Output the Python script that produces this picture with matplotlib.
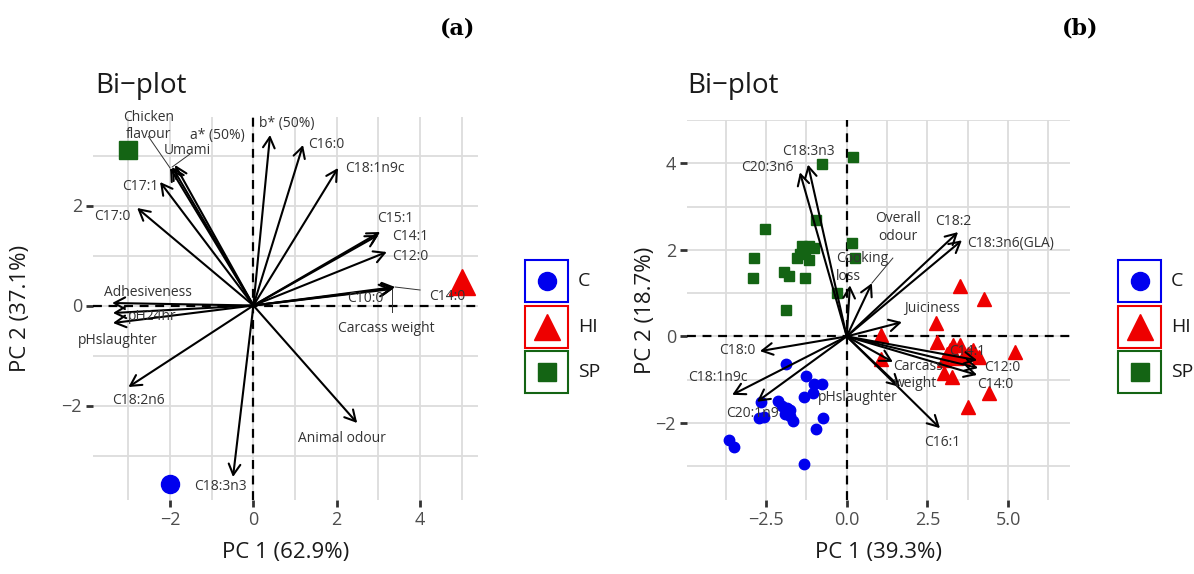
import matplotlib
matplotlib.use("Agg")
import matplotlib.pyplot as plt
from matplotlib.patches import Rectangle

plt.rcParams['font.family'] = ['Open Sans', 'DejaVu Sans']
plt.rcParams['axes.unicode_minus'] = True

W, H, DPI = 1194, 574, 100

# ---------------- data ----------------
groups = ["C", "HI", "SP"]
group_colors = ["#0000EE", "#EE0000", "#146414"]
group_markers = ["o", "^", "s"]

# Panel (a): group centroids
a_pc1 = [-2.0, 5.0, -3.0]
a_pc2 = [-3.57, 0.47, 3.12]

# Panel (a): variable loadings
a_vars = ["b* (50%)", "C16:0", "C18:1n9c", "C15:1", "C14:1", "C12:0", "C14:0",
          "C10:0", "Carcass weight", "Animal odour", "C18:3n3", "C18:2n6",
          "pHslaughter", "pH24hr", "Adhesiveness", "C17:0", "C17:1", "Umami",
          "a* (50%)", "Chicken\nflavour"]
a_load1 = [0.40, 1.19, 2.03, 3.04, 3.00, 3.20, 3.40, 3.38, 3.33, 2.49, -0.49, -3.00,
           -3.37, -3.37, -3.39, -2.79, -2.24, -1.95, -1.88, -2.00]
a_load2 = [3.41, 3.21, 2.75, 1.47, 1.41, 1.07, 0.37, 0.35, 0.33, -2.35, -3.43, -1.63,
           -0.35, -0.15, 0.05, 1.95, 2.47, 2.77, 2.81, 2.75]

# Panel (b): individual scores
b_C_pc1 = [-1.89, -1.27, -1.02, -0.77, -1.33, -1.05, -2.66, -2.14, -2.00, -1.85, -1.75,
           -1.90, -1.75, -1.68, -2.72, -2.57, -0.74, -0.96, -3.65, -3.50, -1.33]
b_C_pc2 = [-0.64, -0.92, -1.10, -1.10, -1.40, -1.31, -1.52, -1.50, -1.60, -1.65, -1.70,
           -1.80, -1.85, -1.95, -1.89, -1.86, -1.89, -2.14, -2.39, -2.55, -2.94]
b_HI_pc1 = [3.50, 4.24, 2.76, 1.05, 2.80, 3.30, 3.50, 3.20, 3.90, 3.10, 3.75, 4.10,
            5.20, 3.60, 1.05, 3.00, 3.27, 4.40, 3.75, 3.40, 3.00]
b_HI_pc2 = [1.17, 0.87, 0.30, 0.03, -0.14, -0.20, -0.20, -0.32, -0.32, -0.40, -0.40,
            -0.48, -0.37, -0.48, -0.53, -0.85, -0.94, -1.31, -1.63, -0.50, -0.55]
b_SP_pc1 = [0.19, -0.77, -0.96, -2.54, -2.88, -2.91, -1.95, -1.80, -1.30, -1.89, -1.40,
            -1.18, -1.00, -1.55, -1.18, -1.30, 0.15, 0.25, -0.31, -1.45]
b_SP_pc2 = [4.14, 3.98, 2.69, 2.48, 1.82, 1.36, 1.49, 1.40, 1.36, 0.60, 2.10, 2.10,
            2.05, 1.82, 1.77, 1.95, 2.16, 1.82, 1.01, 1.90]

# Panel (b): variable loadings
b_vars = ["C20:3n6", "C18:3n3", "C18:2", "C18:3n6(GLA)", "Overall\nodour",
          "Cooking\nloss", "Juiciness", "C18:0", "C18:1n9c", "C20:1n9", "pHslaughter",
          "Carcass\nweight", "C16:1", "C14:1", "C12:0", "C14:0"]
b_load1 = [-1.45, -1.20, 3.45, 3.57, 0.78, 0.10, 1.71, -2.69, -3.55, -2.78, 1.65, 1.43,
           2.89, 4.04, 4.07, 4.04]
b_load2 = [3.79, 3.97, 2.41, 2.22, 1.23, 1.18, 0.33, -0.34, -1.35, -1.51, -1.17, -0.59,
           -2.12, -0.55, -0.73, -0.89]

# ---------------- label layout (repelled positions) ----------------
a_label_pos = {
    "b* (50%)": (0.81, 3.65, "center"), "C16:0": (1.31, 3.21, "left"),
    "C18:1n9c": (2.2, 2.75, "left"), "C15:1": (3.40, 1.75, "center"),
    "C14:1": (3.76, 1.37, "center"), "C12:0": (3.76, 0.99, "center"),
    "C14:0": (4.65, 0.17, "center"), "C10:0": (2.68, 0.15, "center"),
    "Carcass weight": (3.2, -0.45, "center"), "Animal odour": (2.13, -2.67, "center"),
    "C18:3n3": (-0.8, -3.63, "center"), "C18:2n6": (-2.77, -1.89, "center"),
    "pHslaughter": (-3.25, -0.69, "center"), "pH24hr": (-2.43, -0.23, "center"),
    "Adhesiveness": (-2.53, 0.25, "center"), "C17:0": (-3.39, 1.77, "center"),
    "C17:1": (-2.72, 2.37, "center"), "Umami": (-1.59, 3.11, "center"),
    "a* (50%)": (-0.87, 3.41, "center"), "Chicken\nflavour": (-2.52, 3.59, "center"),
}
a_leaders = {"C14:0": (4.0, 0.31), "Carcass weight": (3.33, -0.13),
             "Umami": (-1.52, 3.03), "Chicken\nflavour": (-2.52, 3.38)}

b_label_pos = {
    "C20:3n6": (-2.47, 3.91, "center"), "C18:3n3": (-1.2, 4.27, "center"),
    "C18:2": (3.29, 2.66, "center"), "C18:3n6(GLA)": (3.73, 2.15, "left"),
    "Overall\nodour": (1.59, 2.52, "center"), "Cooking\nloss": (-0.33, 1.6, "left"),
    "Juiciness": (2.64, 0.65, "center"), "C18:0": (-3.4, -0.32, "center"),
    "C18:1n9c": (-3.98, -0.96, "center"), "C20:1n9": (-2.91, -1.77, "center"),
    "pHslaughter": (0.35, -1.42, "center"), "Carcass\nweight": (1.45, -0.89, "left"),
    "C16:1": (2.95, -2.46, "center"), "C14:1": (3.73, -0.36, "center"),
    "C12:0": (4.81, -0.71, "center"), "C14:0": (4.6, -1.1, "center"),
}
b_leaders = {"Overall\nodour": (1.43, 1.81)}

fig = plt.figure(figsize=(W / DPI, H / DPI), dpi=DPI)
fig.patch.set_facecolor("white")


def px_rect(l, t, r, b):
    return [l / W, 1 - b / H, (r - l) / W, (b - t) / H]


def fmt(v, d):
    s = f"{v:.{d}f}"
    return s.replace("-", "\u2212")


def style_axes(ax, xlim, ylim, xmaj, xmin, ymaj, ymin, dec):
    ax.set_xlim(*xlim)
    ax.set_ylim(*ylim)
    for s in ax.spines.values():
        s.set_visible(False)
    ax.set_xticks(xmaj, labels=[fmt(v, dec) for v in xmaj])
    ax.set_xticks(xmin, minor=True)
    ax.set_yticks(ymaj, labels=[fmt(v, 0) for v in ymaj])
    ax.set_yticks(ymin, minor=True)
    ax.grid(which="both", color="#DCDCDC", lw=1.3)
    ax.set_axisbelow(True)
    ax.tick_params(which="major", length=5, width=2, color="#333333",
                   labelsize=13, labelcolor="#4D4D4D", pad=3)
    ax.tick_params(which="minor", length=0)
    ax.axhline(0, color="black", lw=1.6, ls=(0, (4, 3)), zorder=2)
    ax.axvline(0, color="black", lw=1.6, ls=(0, (4, 3)), zorder=2)


def draw_arrows(ax, names, l1, l2, pos, leaders):
    for n, x, y in zip(names, l1, l2):
        ax.annotate("", xy=(x, y), xytext=(0, 0),
                    arrowprops=dict(arrowstyle="->,head_length=0.55,head_width=0.3",
                                    lw=1.5, color="black", shrinkA=0, shrinkB=0,
                                    mutation_scale=14), zorder=4)
        tx, ty, ha = pos[n]
        ax.text(tx, ty, n, ha=ha, va="center", fontsize=10, color="#333333",
                linespacing=1.25, zorder=5)
        if n in leaders:
            lx, ly = leaders[n]
            ax.plot([lx, x], [ly, y], color="#333333", lw=0.7, zorder=5)


# ---------------- panel (a) ----------------
ax_a = fig.add_axes(px_rect(93, 117, 478, 500))
style_axes(ax_a, (-3.85, 5.39), (-3.89, 3.77), [-2, 0, 2, 4], [-3, -1, 1, 3, 5],
           [-2, 0, 2], [-3, -1, 1, 3], 0)
draw_arrows(ax_a, a_vars, a_load1, a_load2, a_label_pos, a_leaders)
a_sizes = [13, 19, 13.5]
for g, c, m, x, y, s in zip(groups, group_colors, group_markers, a_pc1, a_pc2, a_sizes):
    ax_a.plot([x], [y], marker=m, color=c, ms=s, ls="none", zorder=3, clip_on=False)
ax_a.set_xlabel("PC 1 (62.9%)", fontsize=16, color="#1A1A1A", labelpad=9)
ax_a.set_ylabel("PC 2 (37.1%)", fontsize=16, color="#1A1A1A")
ax_a.yaxis.set_label_coords((31 - 93) / 385, 0.5)

# ---------------- panel (b) ----------------
ax_b = fig.add_axes(px_rect(687, 120, 1070, 500))
style_axes(ax_b, (-4.95, 6.92), (-3.78, 4.99), [-2.5, 0, 2.5, 5.0],
           [-3.75, -1.25, 1.25, 3.75, 6.25], [-2, 0, 2, 4], [-3, -1, 1, 3, 5], 1)
b_xs = [b_C_pc1, b_HI_pc1, b_SP_pc1]
b_ys = [b_C_pc2, b_HI_pc2, b_SP_pc2]
b_sizes = [7.5, 9.5, 6.5]
for c, m, xs, ys, s in zip(group_colors, group_markers, b_xs, b_ys, b_sizes):
    ax_b.plot(xs, ys, marker=m, color=c, ms=s, ls="none", zorder=3)
draw_arrows(ax_b, b_vars, b_load1, b_load2, b_label_pos, b_leaders)
ax_b.set_xlabel("PC 1 (39.3%)", fontsize=16, color="#1A1A1A", labelpad=9)
ax_b.set_ylabel("PC 2 (18.7%)", fontsize=16, color="#1A1A1A")
ax_b.yaxis.set_label_coords((656 - 687) / 383, 0.5)

# ---------------- overlay: titles, panel letters, legends ----------------
ov = fig.add_axes([0, 0, 1, 1])
ov.set_xlim(0, W)
ov.set_ylim(H, 0)
ov.axis("off")
ov.text(95, 86, "Bi\u2212plot", fontsize=20, color="#1A1A1A", ha="left", va="center")
ov.text(687, 86, "Bi\u2212plot", fontsize=20, color="#1A1A1A", ha="left", va="center")
ov.text(458, 28, "(a)", fontsize=16, fontweight="bold", family="DejaVu Serif",
        ha="center", va="center")
ov.text(1080, 28, "(b)", fontsize=16, fontweight="bold", family="DejaVu Serif",
        ha="center", va="center")

leg_sizes = [13, 19, 13]
for left in (525, 1118):
    for i, (g, c, m, s) in enumerate(zip(groups, group_colors, group_markers, leg_sizes)):
        top = 260 + i * 45.5
        ov.add_patch(Rectangle((left, top), 43, 42, fill=False, edgecolor=c, lw=1.5))
        ov.plot([left + 21.5], [top + 21], marker=m, color=c, ms=s, ls="none")
        ov.text(left + 53, top + 21, g, fontsize=14, color="#1A1A1A",
                ha="left", va="center")

fig.savefig("out.png", dpi=DPI)
